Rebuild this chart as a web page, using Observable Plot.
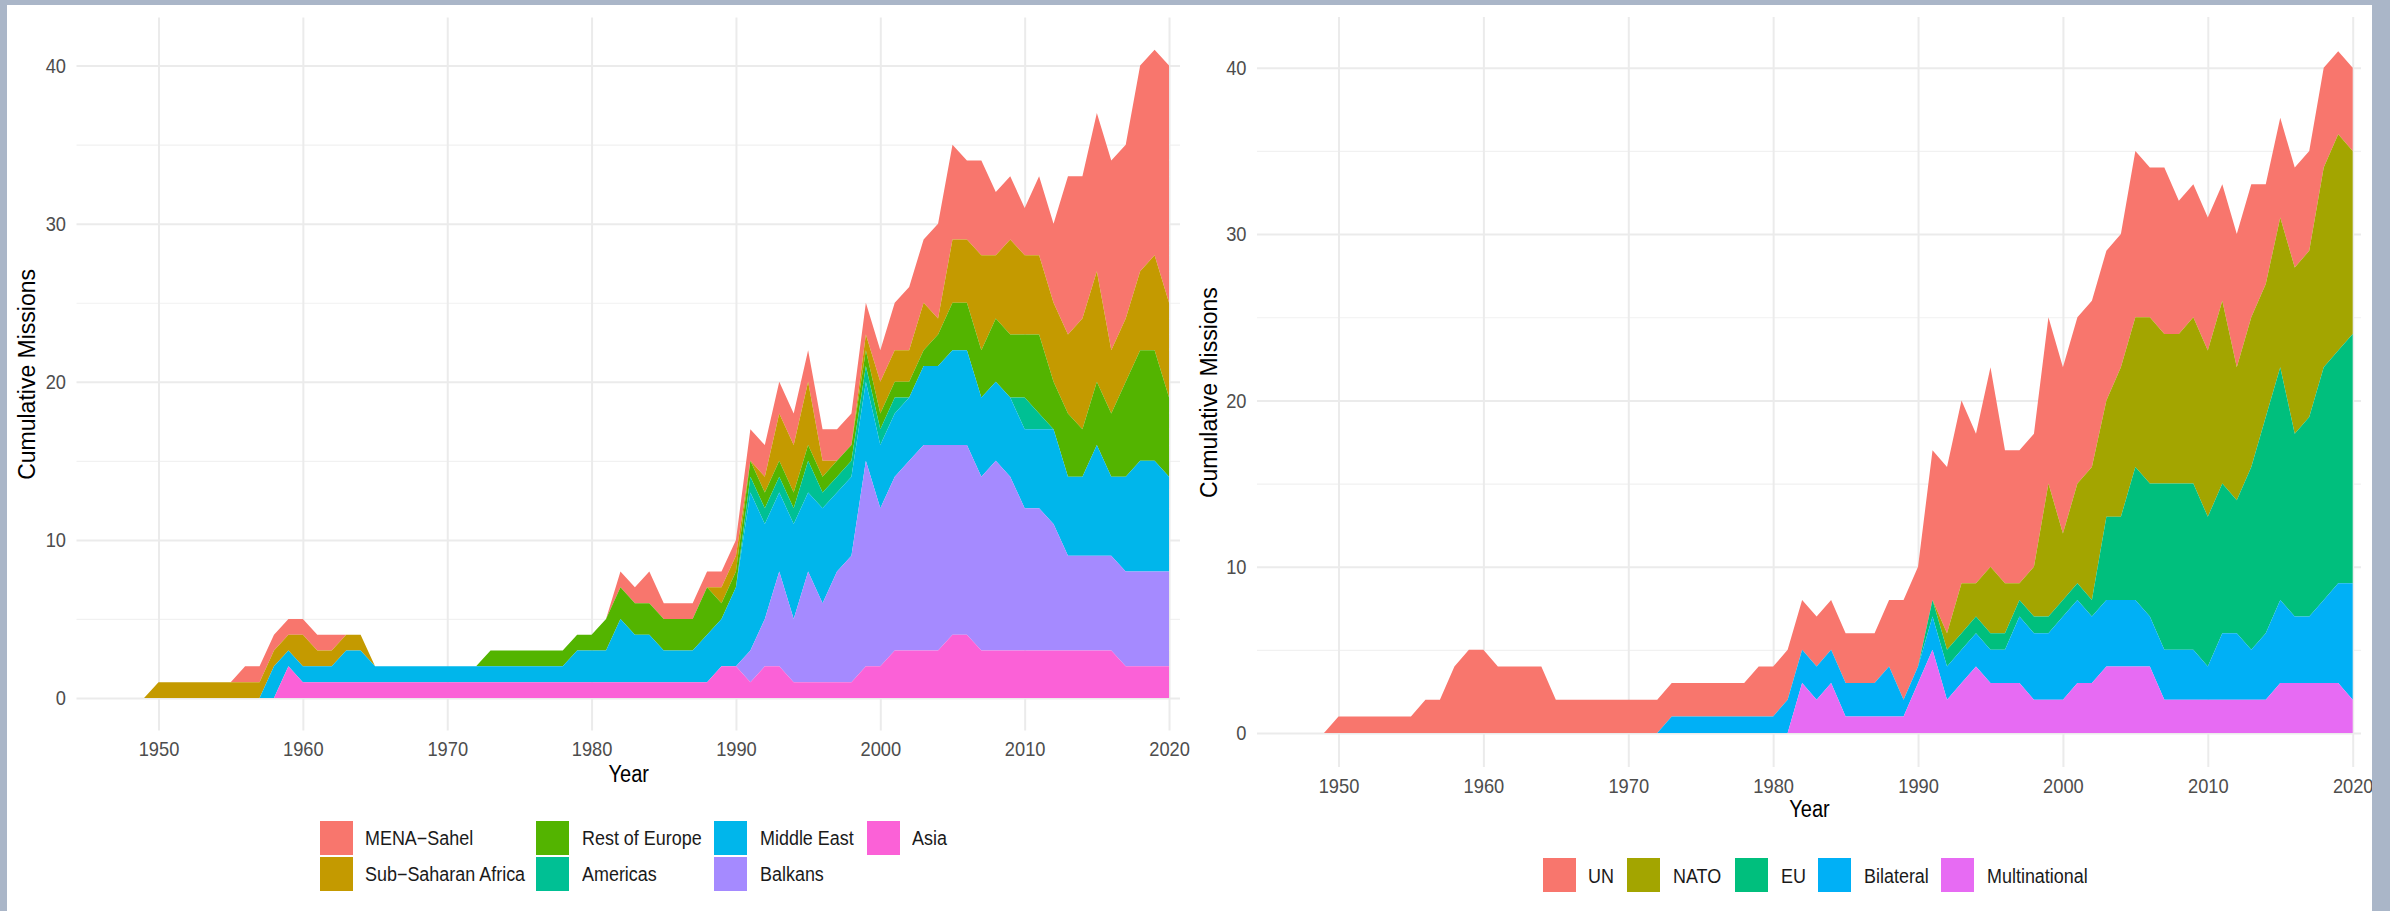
<!DOCTYPE html>
<html><head><meta charset="utf-8">
<script src="https://cdn.jsdelivr.net/npm/d3@7"></script>
<script src="https://cdn.jsdelivr.net/npm/@observablehq/plot@0.6"></script>
<style>
body{margin:0;width:2390px;height:911px;background:#aab6c8;overflow:hidden;font-family:"Liberation Sans",Arial,sans-serif;position:relative}
#sheet{position:absolute;left:7px;top:5px;width:2365px;height:906px;background:#fff}
.chart{position:absolute;top:0}
.key{position:absolute;width:33px;height:34px}
.lab{position:absolute;font-size:19.5px;color:#1a1a1a;line-height:20px;white-space:nowrap;transform:scaleX(0.92);transform-origin:0 50%}
</style></head><body>
<div id="sheet"></div>
<div id="left" class="chart" style="left:0px"></div>
<div id="right" class="chart" style="left:1190px"></div>
<div id="legL"></div>
<div id="legR"></div>
<script>
// ---------- categories ----------
const years = [1949,
 1950,1951,1952,1953,1954,1955,1956,1957,1958,1959,
 1960,1961,1962,1963,1964,1965,1966,1967,1968,1969,
 1970,1971,1972,1973,1974,1975,1976,1977,1978,1979,
 1980,1981,1982,1983,1984,1985,1986,1987,1988,1989,
 1990,1991,1992,1993,1994,1995,1996,1997,1998,1999,
 2000,2001,2002,2003,2004,2005,2006,2007,2008,2009,
 2010,2011,2012,2013,2014,2015,2016,2017,2018,2019,
 2020];
const regions = ["MENA\u2212Sahel","Sub\u2212Saharan Africa","Rest of Europe","Americas","Middle East","Balkans","Asia"];
const regionColors = ["#F8766D","#C49A00","#53B400","#00C094","#00B6EB","#A58AFF","#FB61D7"];
const actors = ["UN","NATO","EU","Bilateral","Multinational"];
const actorColors = ["#F8766D","#A3A500","#00BF7D","#00B0F6","#E76BF3"];
const xTicks = [1950,1960,1970,1980,1990,2000,2010,2020];
const yMajor = [0,10,20,30,40];
const yMinor = [5,15,25,35];

// ---------- left chart series (missions by region, 1949-2020) ----------
const menaSahel = [0,
 0,0,0,0,0,0,1,1,1,1,
 1,1,1,0,0,0,0,0,0,0,
 0,0,0,0,0,0,0,0,0,0,
 0,0,1,1,2,1,1,1,1,1,
 1,2,2,2,2,2,2,2,2,2,
 2,3,4,4,6,6,5,6,4,4,
 3,5,5,10,9,10,12,11,13,13,
 15];
const subSaharan = [0,
 1,1,1,1,1,1,1,1,1,1,
 2,1,1,1,1,0,0,0,0,0,
 0,0,0,0,0,0,0,0,0,0,
 0,0,0,0,0,0,0,0,0,1,
 1,0,1,3,3,4,1,0,0,1,
 2,2,2,3,1,4,4,6,4,6,
 5,5,5,5,7,7,4,4,5,6,
 6];
const restEurope = [0,
 0,0,0,0,0,0,0,0,0,0,
 0,0,0,0,0,0,0,0,0,0,
 0,0,0,1,1,1,1,1,1,1,
 1,2,2,2,2,2,2,2,3,1,
 1,1,1,1,1,1,1,1,1,1,
 1,1,1,1,2,3,3,3,4,4,
 4,5,3,4,3,4,4,6,7,7,
 5];
const americas = [0,
 0,0,0,0,0,0,0,0,0,0,
 0,0,0,0,0,0,0,0,0,0,
 0,0,0,0,0,0,0,0,0,0,
 0,0,0,0,0,0,0,0,0,0,
 0,1,1,1,1,2,1,1,1,1,
 1,1,0,0,0,0,0,0,0,0,
 2,1,0,0,0,0,0,0,0,0,
 0];
const middleEast = [0,
 0,0,0,0,0,0,0,0,2,1,
 1,1,1,2,2,1,1,1,1,1,
 1,1,1,1,1,1,1,1,1,2,
 2,2,4,3,3,2,2,2,3,3,
 5,10,6,5,6,5,6,5,5,5,
 4,4,4,5,5,6,6,5,5,5,
 5,5,6,5,5,7,5,6,7,7,
 6];
const balkans = [0,
 0,0,0,0,0,0,0,0,0,0,
 0,0,0,0,0,0,0,0,0,0,
 0,0,0,0,0,0,0,0,0,0,
 0,0,0,0,0,0,0,0,0,0,
 0,2,3,6,4,7,5,7,8,13,
 10,11,12,13,13,12,12,11,12,11,
 9,9,8,6,6,6,6,6,6,6,
 6];
const asia = [0,
 0,0,0,0,0,0,0,0,0,2,
 1,1,1,1,1,1,1,1,1,1,
 1,1,1,1,1,1,1,1,1,1,
 1,1,1,1,1,1,1,1,1,2,
 2,1,2,2,1,1,1,1,1,2,
 2,3,3,3,3,4,4,3,3,3,
 3,3,3,3,3,3,3,2,2,2,
 2];

// ---------- right chart series (missions by actor, 1949-2020) ----------
const un = [0,
 1,1,1,1,1,1,2,2,4,5,
 5,4,4,4,4,2,2,2,2,2,
 2,2,2,2,2,2,2,2,2,3,
 3,3,3,3,3,3,3,3,4,6,
 6,9,10,11,9,12,8,8,8,10,
 10,10,10,9,8,10,9,10,8,8,
 8,7,8,8,6,6,6,6,6,5,
 5];
const nato = [0,
 0,0,0,0,0,0,0,0,0,0,
 0,0,0,0,0,0,0,0,0,0,
 0,0,0,0,0,0,0,0,0,0,
 0,0,0,0,0,0,0,0,0,0,
 0,0,1,3,2,4,3,1,3,8,
 4,6,8,7,9,9,10,9,9,10,
 10,11,8,9,8,9,10,10,12,13,
 11];
const eu = [0,
 0,0,0,0,0,0,0,0,0,0,
 0,0,0,0,0,0,0,0,0,0,
 0,0,0,0,0,0,0,0,0,0,
 0,0,0,0,0,0,0,0,0,0,
 0,1,1,1,1,1,1,1,1,1,
 1,1,1,5,5,8,8,10,10,10,
 9,9,8,11,13,14,11,12,14,14,
 15];
const bilateral = [0,
 0,0,0,0,0,0,0,0,0,0,
 0,0,0,0,0,0,0,0,0,0,
 0,0,0,1,1,1,1,1,1,1,
 1,2,2,2,2,2,2,2,3,1,
 1,2,2,2,2,2,2,4,4,4,
 5,5,4,4,4,4,3,3,3,3,
 2,4,4,3,4,5,4,4,5,6,
 7];
const multinational = [0,
 0,0,0,0,0,0,0,0,0,0,
 0,0,0,0,0,0,0,0,0,0,
 0,0,0,0,0,0,0,0,0,0,
 0,0,3,2,3,1,1,1,1,1,
 3,5,2,3,4,3,3,3,2,2,
 2,3,3,4,4,4,4,2,2,2,
 2,2,2,2,2,3,3,3,3,3,
 2];

// ---------- build tables ----------
const regionSeries = [menaSahel, subSaharan, restEurope, americas, middleEast, balkans, asia];
const actorSeries = [un, nato, eu, bilateral, multinational];
const leftData = regions.flatMap((r, i) => years.map((yr, j) => ({year: yr, value: regionSeries[i][j], group: r})));
const rightData = actors.flatMap((a, i) => years.map((yr, j) => ({year: yr, value: actorSeries[i][j], group: a})));

const FONT = '"Liberation Sans", Arial, sans-serif';

function chart(o) {
  return Plot.plot({
    width: o.width, height: o.height,
    marginLeft: o.left, marginRight: o.width - o.right,
    marginTop: o.top, marginBottom: o.height - o.bottom,
    style: {background: "transparent", fontFamily: FONT, overflow: "hidden"},
    x: {domain: o.xDomain},
    y: {domain: [-2.05, 43.05]},
    color: {domain: o.cats, range: o.colors},
    marks: [
      Plot.gridY(yMinor, {stroke: "#f1f1f1", strokeOpacity: 1, strokeWidth: 1.2}),
      Plot.gridY(yMajor, {stroke: "#ebebeb", strokeOpacity: 1, strokeWidth: 2}),
      Plot.gridX(xTicks, {stroke: "#ebebeb", strokeOpacity: 1, strokeWidth: 2}),
      Plot.areaY(o.data, {x: "year", y: "value", z: "group", fill: "group",
        order: o.cats.slice().reverse(), curve: "linear"}),
      Plot.axisX(xTicks, {tickSize: 0, tickPadding: 10, fontSize: 21, color: "#4d4d4d",
        tickFormat: d => String(d), label: null}),
      Plot.axisY(yMajor, {tickSize: 0, tickPadding: 11, fontSize: 21, color: "#4d4d4d", label: null}),
      Plot.text(["Year"], {text: d => d, frameAnchor: "bottom", dy: o.xTitleDy, fontSize: 23,
        fill: "#000", textAnchor: "middle", lineAnchor: "middle"}),
      Plot.text(["Cumulative Missions"], {text: d => d, frameAnchor: "left", dx: o.yTitleDx,
        rotate: -90, fontSize: 23, fill: "#000", textAnchor: "middle", lineAnchor: "middle"})
    ]
  });
}

// horizontally condense non-rotated texts (the reference type is narrow)
function condense(svg, k) {
  svg.querySelectorAll("text").forEach(t => {
    const tr = (t.getAttribute("transform") || "") + ((t.parentNode && t.parentNode.getAttribute && t.parentNode.getAttribute("transform")) || "");
    if (tr.includes("rotate")) return;
    const w = t.getComputedTextLength();
    if (w > 0) {
      t.setAttribute("textLength", (w * k).toFixed(2));
      t.setAttribute("lengthAdjust", "spacingAndGlyphs");
    }
  });
}

const svgL = chart({
  width: 1200, height: 800, left: 76.5, right: 1180, top: 17.4, bottom: 730.4,
  xDomain: [1944.32, 2020.76], data: leftData, cats: regions, colors: regionColors,
  xTitleDy: 43.6, yTitleDx: -49.5
});
document.getElementById("left").appendChild(svgL);
condense(svgL, 0.87);

const svgR = chart({
  width: 1182, height: 830, left: 67, right: 1171, top: 17.1, bottom: 767.1,
  xDomain: [1944.375, 2020.573], data: rightData, cats: actors, colors: actorColors,
  xTitleDy: 42, yTitleDx: -48
});
document.getElementById("right").appendChild(svgR);
condense(svgR, 0.87);

// ---------- legends ----------
function legend(id, cats, colors, keys, labs) {
  const el = document.getElementById(id);
  cats.forEach((c, i) => {
    const k = document.createElement("div");
    k.className = "key";
    k.style.left = keys[i][0] + "px"; k.style.top = keys[i][1] + "px";
    k.style.background = colors[i];
    el.appendChild(k);
    const t = document.createElement("div");
    t.className = "lab";
    t.textContent = c;
    t.style.left = labs[i][0] + "px"; t.style.top = (labs[i][1] - 10) + "px";
    el.appendChild(t);
  });
}
// left: two rows, filled column by column
legend("legL", regions, regionColors,
  [[320,821],[320,857],[536,821],[536,857],[714,821],[714,857],[867,821]],
  [[365,838],[365,874],[582,838],[582,874],[760,838],[760,874],[912,838]]);
legend("legR", actors, actorColors,
  [[1543,858],[1627,858],[1735,858],[1818,858],[1941,858]],
  [[1588,876],[1673,876],[1781,876],[1864,876],[1987,876]]);
</script>
</body></html>
